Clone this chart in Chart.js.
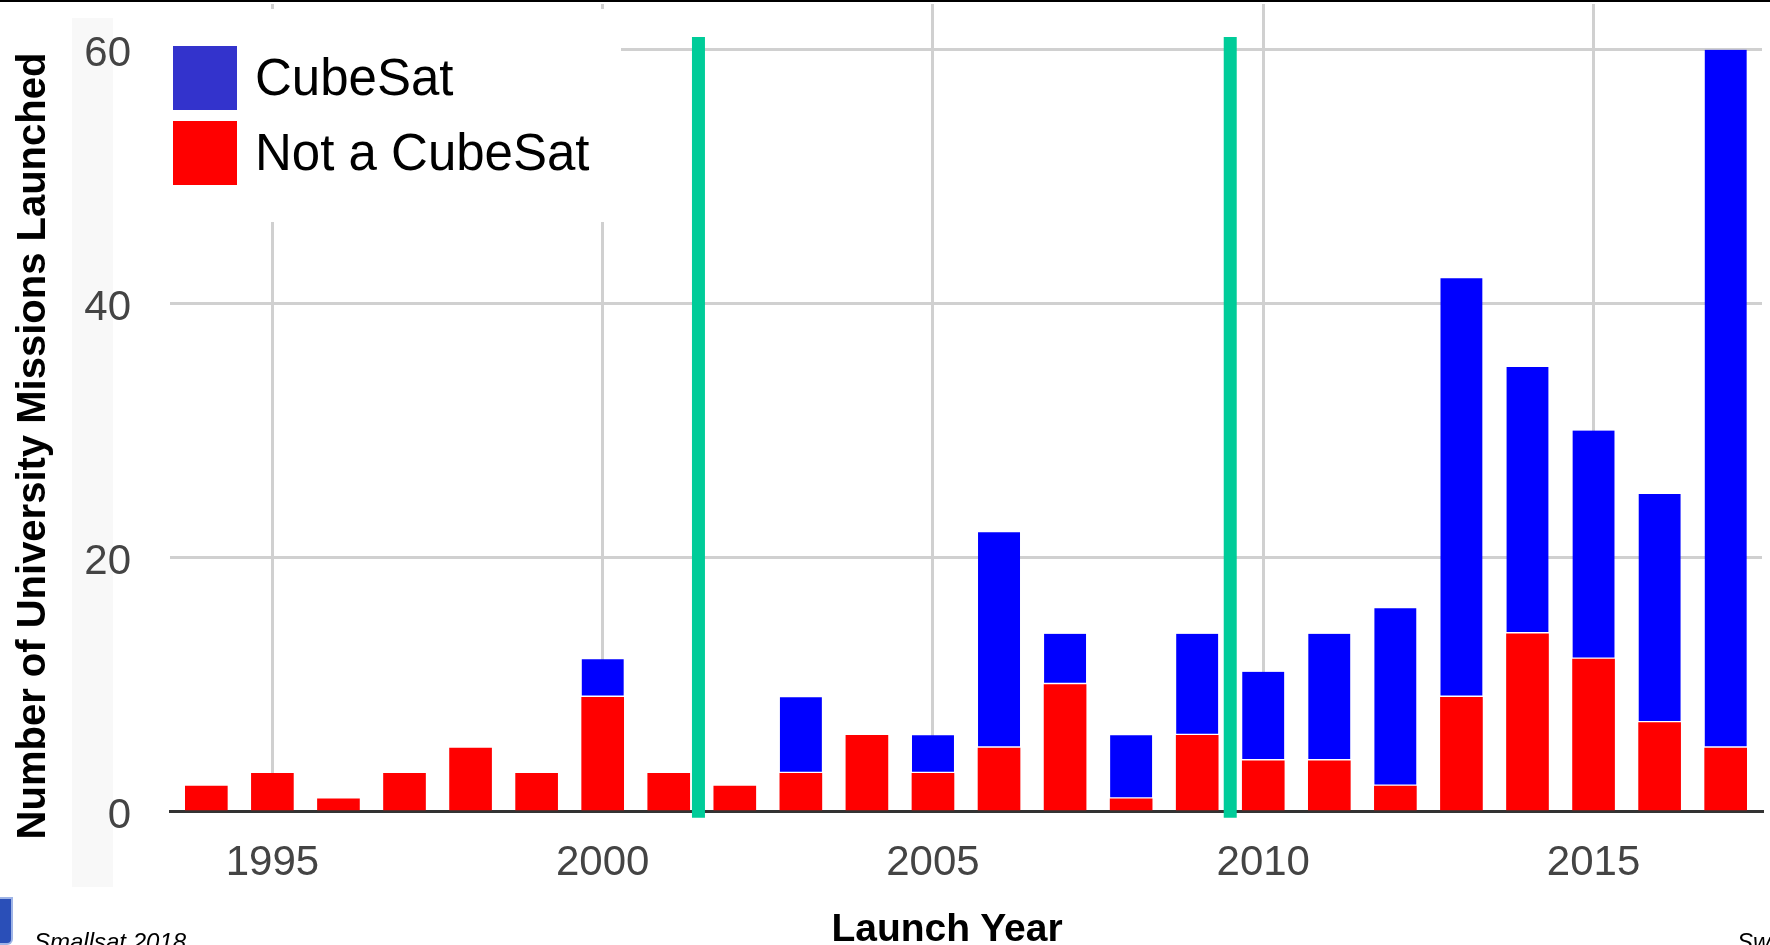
<!DOCTYPE html>
<html lang="en">
<head>
  <meta charset="UTF-8">
  <title>University Missions Launched</title>
  <script src="https://cdn.jsdelivr.net/npm/chart.js"></script>
  <style>
    body { margin: 0; background: #fff; font-family: 'Liberation Sans', Arial, sans-serif; }
    #wrap { position: relative; width: 1770px; height: 945px; overflow: hidden; background: #fff; }
    #myChart { position: absolute; left: 0; top: 0; }
    .topline { position: absolute; left: 0; top: 0; width: 1770px; height: 2px; background: #000; }
    .graybox { position: absolute; left: 72px; top: 18px; width: 41px; height: 869px; background: #f8f8f8; }
    #legend { position: absolute; left: 160px; top: 9px; width: 461px; height: 213px; background: #fff; }
    .leg-row { position: absolute; left: 13px; height: 64px; display: flex; align-items: center; }
    .leg-box { width: 64px; height: 64px; margin-right: 18px; }
    .leg-text { font-size: 51px; line-height: 64px; color: #000; white-space: nowrap; }
    .ytitle { position: absolute; left: -419px; top: 426px; width: 900px; height: 40px; line-height: 40px;
              font-size: 40px; font-weight: bold; text-align: center; transform: rotate(-90deg); white-space: nowrap; }
    .xtitle { position: absolute; left: 647px; top: 908px; width: 600px; line-height: 39px;
              font-size: 39px; font-weight: bold; text-align: center; }
    .foot { position: absolute; top: 930px; font-size: 24px; line-height: 24px; font-style: italic; color: #000; white-space: nowrap; }
    .logo { position: absolute; left: 0; top: 897px; width: 11px; height: 44px; background: #2a4fb8;
            border: 2px solid #9fb4e6; border-left: none; border-radius: 0 0 6px 0; }
  </style>
</head>
<body>
<div id="wrap">
  <div class="graybox"></div>
  <canvas id="myChart" width="1770" height="945"></canvas>
  <div class="topline"></div>
  <div id="legend"></div>
  <div class="ytitle">Number of University Missions Launched</div>
  <div class="xtitle">Launch Year</div>
  <div class="logo"></div>
  <div class="foot" style="left:34px">Smallsat 2018</div>
  <div class="foot" style="left:1737px">Sw</div>
</div>
<script>
  // 資料
  const years = [1994, 1995, 1996, 1997, 1998, 1999, 2000, 2001, 2002, 2003, 2004, 2005,
                 2006, 2007, 2008, 2009, 2010, 2011, 2012, 2013, 2014, 2015, 2016, 2017];
  const notCubeSat = [2, 3, 1, 3, 5, 3, 9, 3, 2, 3, 6, 3, 5, 10, 1, 6, 4, 4, 2, 9, 14, 12, 7, 5];
  const cubeSat    = [0, 0, 0, 0, 0, 0, 3, 0, 0, 6, 0, 3, 17, 4, 5, 8, 7, 10, 14, 33, 21, 18, 18, 55];
  const seriesNames = ['CubeSat', 'Not a CubeSat'];
  const xTickYears = [1995, 2000, 2005, 2010, 2015];
  const yTicks = [0, 20, 40, 60];
  const dividerYears = [2001.45, 2009.5];   // green marker lines
  const dividerRange = [-0.5, 61];

  const barBlue = '#0000ff';
  const barRed = '#ff0000';
  const legendColors = ['#3333cc', '#ff0000'];
  const gridColor = '#d0d0d0';

  // legend (built from the series names)
  const legend = document.getElementById('legend');
  legend.innerHTML = seriesNames.map((name, i) =>
    `<div class="leg-row" style="top:${37 + i * 75}px">
       <div class="leg-box" style="background:${legendColors[i]}"></div>
       <span class="leg-text">${name}</span>
     </div>`).join('');

  const toPoints = vals => years.map((yr, i) => ({ x: yr, y: vals[i] || null }));

  const datasets = [
    {
      type: 'bar',
      label: seriesNames[1],
      data: toPoints(notCubeSat),
      backgroundColor: barRed,
      barThickness: 42,
      stack: 'bars'
    },
    {
      type: 'bar',
      label: seriesNames[0],
      data: toPoints(cubeSat),
      backgroundColor: barBlue,
      borderColor: '#ffffff',
      borderWidth: { bottom: 2, top: 0, left: 0, right: 0 },
      borderSkipped: false,
      barThickness: 42,
      stack: 'bars'
    }
  ];
  dividerYears.forEach((yr, i) => {
    datasets.push({
      type: 'line',
      label: 'divider' + i,
      data: dividerRange.map(v => ({ x: yr, y: v })),
      borderColor: '#00cc99',
      borderWidth: 13,
      borderCapStyle: 'butt',
      pointRadius: 0,
      clip: false,
      stack: 'div' + i
    });
  });

  Chart.defaults.font.family = "'Liberation Sans', Arial, sans-serif";

  new Chart(document.getElementById('myChart').getContext('2d'), {
    data: { datasets: datasets },
    options: {
      responsive: false,
      animation: false,
      layout: { padding: { left: 0, top: 4, right: 8, bottom: 0 } },
      plugins: { legend: { display: false }, tooltip: { enabled: false } },
      scales: {
        x: {
          type: 'linear',
          stacked: true,
          offset: false,
          min: 1993.45,
          max: 2017.55,
          afterBuildTicks: s => { s.ticks = xTickYears.map(v => ({ value: v })); },
          afterFit: s => { s.height = 133.5; s.paddingLeft = 0; s.paddingRight = 0; },
          ticks: {
            callback: v => String(v),
            font: { size: 42 },
            color: '#444444',
            padding: 27,
            maxRotation: 0
          },
          grid: { offset: false, color: gridColor, lineWidth: 3, drawTicks: false },
          border: { display: true, color: '#333333', width: 3 }
        },
        y: {
          stacked: true,
          min: 0,
          max: 63.6,
          afterBuildTicks: s => { s.ticks = yTicks.map(v => ({ value: v })); },
          afterFit: s => { s.width = 170; s.paddingTop = 0; s.paddingBottom = 0; },
          ticks: {
            font: { size: 42 },
            color: '#444444',
            padding: 39,
            labelOffset: 5
          },
          grid: {
            color: c => (c.tick && c.tick.value === 0 ? 'rgba(0,0,0,0)' : gridColor),
            lineWidth: 3,
            drawTicks: false
          },
          border: { display: false }
        }
      }
    }
  });
</script>
</body>
</html>
